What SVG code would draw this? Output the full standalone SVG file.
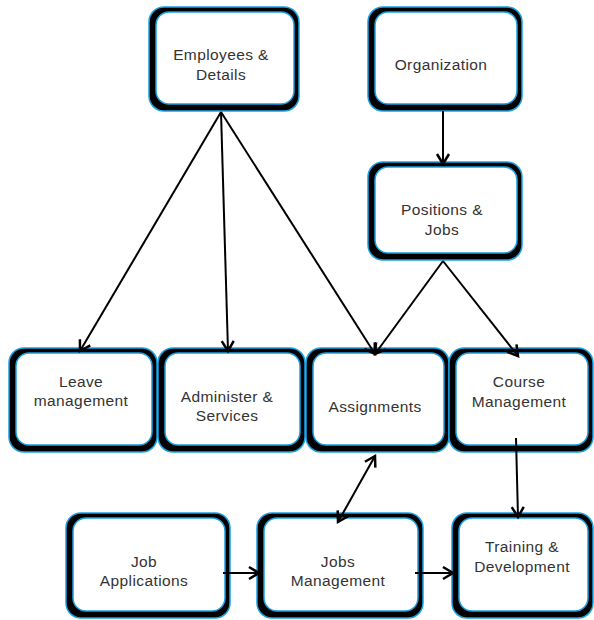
<svg xmlns="http://www.w3.org/2000/svg" width="594" height="620" viewBox="0 0 594 620">
<style>
.o{fill:#000;stroke:#1ba1e2;stroke-width:1.5}
.i{fill:#fff;stroke:#1ba1e2;stroke-width:1.5}
.t{font-family:"Liberation Sans",Arial,sans-serif;font-size:15.5px;fill:#333;text-anchor:middle;letter-spacing:0.4px}
.c{stroke:#000;stroke-width:2;fill:none}
</style>
<defs>
<marker id="a" markerUnits="userSpaceOnUse" markerWidth="16" markerHeight="16" refX="12" refY="8" orient="auto-start-reverse" viewBox="0 0 16 16">
<path d="M2,2 L12,8 L2,14" fill="none" stroke="#000" stroke-width="2.5"/>
</marker>
</defs>
<g id="employees"><rect class="o" x="149" y="7" width="150" height="104" rx="15"/><rect class="i" x="156" y="12" width="138" height="92" rx="13"/><text class="t" x="221" y="60">Employees &amp;</text><text class="t" x="221" y="80">Details</text></g>
<g id="organization"><rect class="o" x="368" y="7" width="154" height="104" rx="15"/><rect class="i" x="375" y="12" width="142" height="92" rx="13"/><text class="t" x="441" y="70">Organization</text></g>
<g id="positions"><rect class="o" x="368" y="162" width="154" height="98" rx="15"/><rect class="i" x="375" y="167" width="142" height="86" rx="13"/><text class="t" x="442" y="215">Positions &amp;</text><text class="t" x="442" y="235">Jobs</text></g>
<g id="leave"><rect class="o" x="9" y="348" width="148" height="104" rx="15"/><rect class="i" x="16" y="353" width="136" height="92" rx="13"/><text class="t" x="81" y="387">Leave</text><text class="t" x="81" y="406">management</text></g>
<g id="administer"><rect class="o" x="158" y="348" width="147" height="104" rx="15"/><rect class="i" x="165" y="353" width="135" height="92" rx="13"/><text class="t" x="227" y="402">Administer &amp;</text><text class="t" x="227" y="421">Services</text></g>
<g id="assignments"><rect class="o" x="306" y="348" width="143" height="104" rx="15"/><rect class="i" x="313" y="353" width="131" height="92" rx="13"/><text class="t" x="375" y="412">Assignments</text></g>
<g id="course"><rect class="o" x="449" y="348" width="144" height="104" rx="15"/><rect class="i" x="456" y="353" width="132" height="92" rx="13"/><text class="t" x="519" y="387">Course</text><text class="t" x="519" y="407">Management</text></g>
<g id="jobapps"><rect class="o" x="66" y="513" width="164" height="105" rx="15"/><rect class="i" x="73" y="518" width="152" height="93" rx="13"/><text class="t" x="144" y="567">Job</text><text class="t" x="144" y="586">Applications</text></g>
<g id="jobsmgmt"><rect class="o" x="257" y="513" width="166" height="105" rx="15"/><rect class="i" x="264" y="518" width="154" height="93" rx="13"/><text class="t" x="338" y="567">Jobs</text><text class="t" x="338" y="586">Management</text></g>
<g id="training"><rect class="o" x="452" y="513" width="141" height="105" rx="15"/><rect class="i" x="459" y="518" width="129" height="93" rx="13"/><text class="t" x="522" y="552">Training &amp;</text><text class="t" x="522" y="572">Development</text></g>
<g id="connectors">
<line class="c" x1="221" y1="112" x2="80" y2="351" marker-end="url(#a)"/>
<line class="c" x1="221" y1="112" x2="228" y2="351" marker-end="url(#a)"/>
<line class="c" x1="221" y1="112" x2="375" y2="354" marker-end="url(#a)"/>
<line class="c" x1="443" y1="111" x2="443" y2="164" marker-end="url(#a)"/>
<line class="c" x1="443" y1="261" x2="375" y2="354" marker-end="url(#a)"/>
<line class="c" x1="443" y1="261" x2="518" y2="356" marker-end="url(#a)"/>
<line class="c" x1="516" y1="438" x2="518" y2="517" marker-end="url(#a)"/>
<line class="c" x1="223" y1="573" x2="259" y2="573" marker-end="url(#a)"/>
<line class="c" x1="415" y1="573" x2="453" y2="573" marker-end="url(#a)"/>
<line class="c" x1="375" y1="456" x2="338" y2="522" marker-start="url(#a)" marker-end="url(#a)"/>
</g>
</svg>
